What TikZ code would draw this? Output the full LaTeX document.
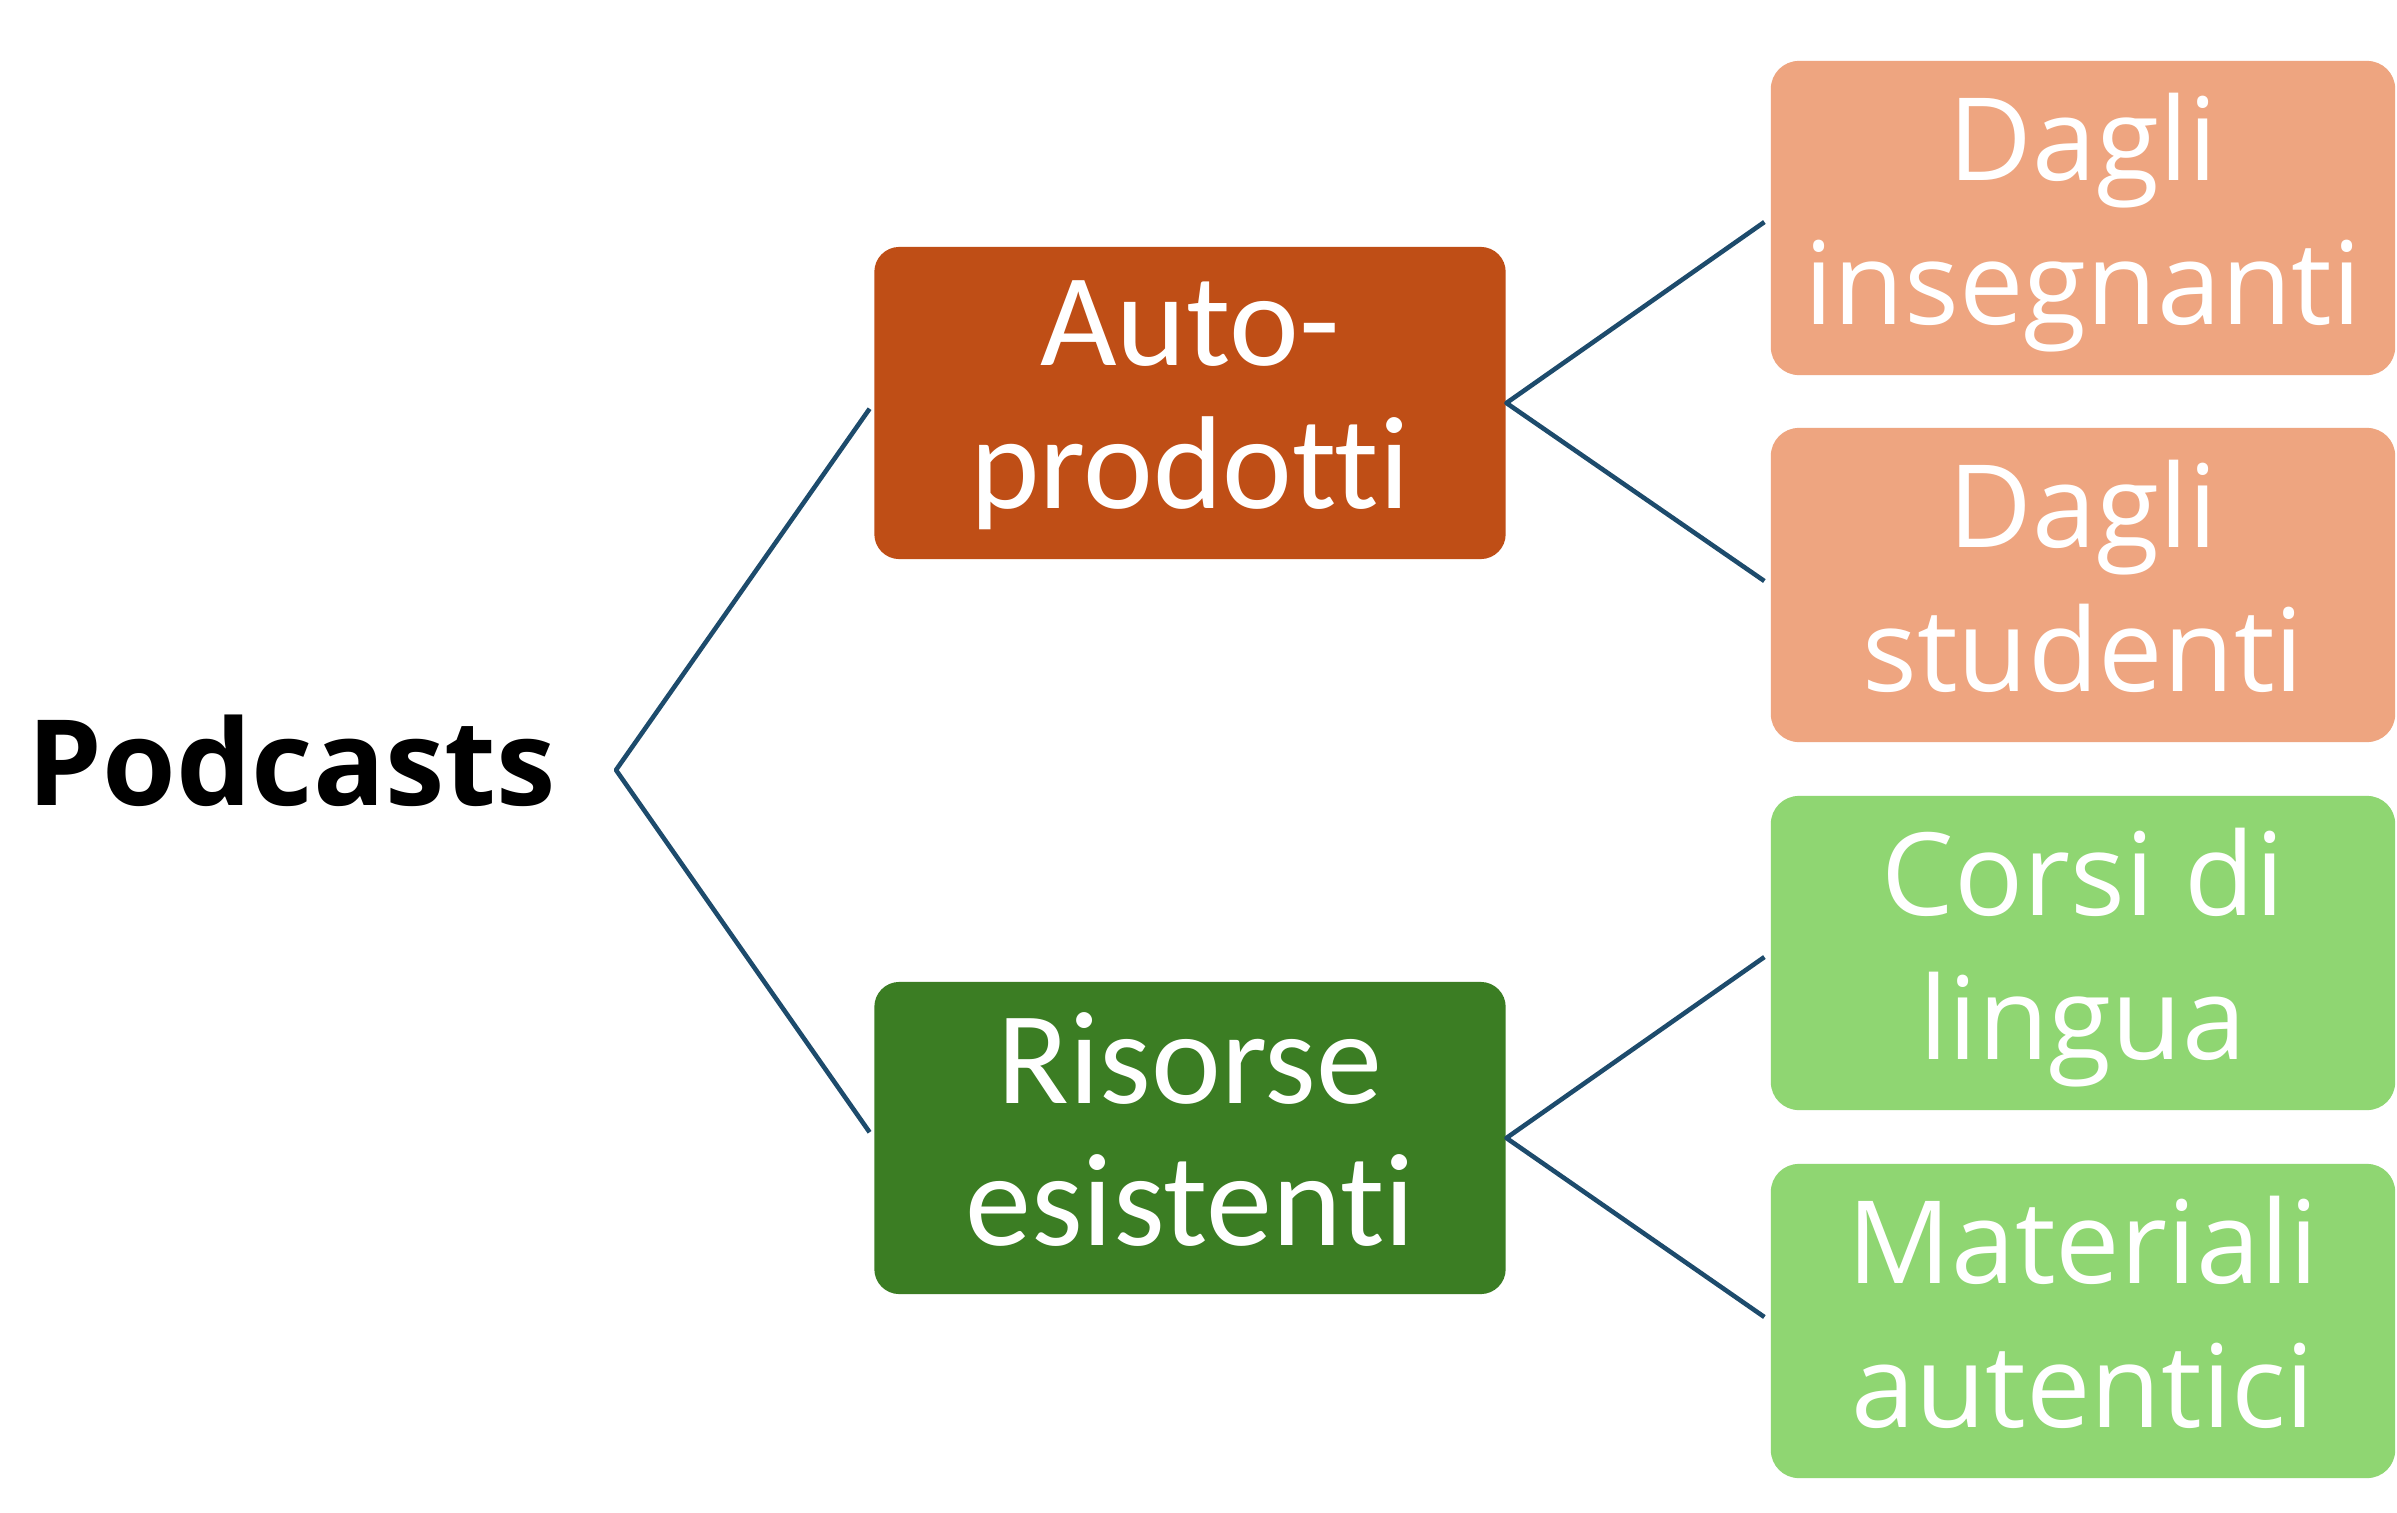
\documentclass[tikz,border=0pt]{standalone}
\usepackage{fontspec}
\newfontfamily\midfont{Carlito}[Ligatures={NoCommon,NoRare,NoContextual}]
\newfontfamily\leaffont{Open Sans}
\usepackage{tikz}

\definecolor{autocol}{HTML}{BF4E16}
\definecolor{risorsecol}{HTML}{3B7D23}
\definecolor{salmon}{HTML}{EEA580}
\definecolor{leafgreen}{HTML}{8FD672}
\definecolor{linkcol}{HTML}{1D4B6C}

\tikzset{
  midbox/.style={rectangle, rounded corners=0.25cm, minimum width=6.31cm,
    minimum height=3.12cm, inner sep=0pt, text=white, align=center,
    text height=2.1cm, text depth=0cm,
    font=\midfont\fontsize{37.6}{40.4}\selectfont},
  leafbox/.style={rectangle, rounded corners=0.28cm, minimum width=6.24cm,
    minimum height=3.14cm, inner sep=0pt, text=white, align=center,
    text height=2.12cm, text depth=0cm,
    font=\leaffont\fontsize{32.7}{40.7}\selectfont},
  link/.style={draw=linkcol, line width=1.3pt, line join=round,
    shorten <=0.07cm, shorten >=0.07cm}
}

\begin{document}
\begin{tikzpicture}[x=0.01cm, y=-0.01cm]
    % 背景
    \fill[white] (0,0) rectangle (2397,1512);
    \useasboundingbox (0,0) rectangle (2397,1512);

    % 根
    \node[anchor=base west, inner sep=0pt,
      font=\leaffont\bfseries\fontsize{33.9}{40}\selectfont] (pod) at (27,805) {Podcasts};
    \coordinate (fork) at (616,770);

    % 中段
    \node[midbox, fill=autocol] (auto) at (1190,403) {Auto-\\prodotti};
    \node[midbox, fill=risorsecol, text height=2.14cm] (risorse) at (1190,1138) {Risorse\\esistenti};

    % 右端
    \node[leafbox, fill=salmon] (ins) at (2083,218) {Dagli\\insegnanti};
    \node[leafbox, fill=salmon] (stu) at (2083,585) {Dagli\\studenti};
    \node[leafbox, fill=leafgreen] (corsi) at (2083,953) {Corsi di\\lingua};
    \node[leafbox, fill=leafgreen] (mat) at (2083,1321) {Materiali\\autentici};

    % 線
    \draw[link] (auto.west) -- (fork) -- (risorse.west);
    \draw[link] (ins.west) -- (auto.east) -- (stu.west);
    \draw[link] (corsi.west) -- (risorse.east) -- (mat.west);
\end{tikzpicture}
\end{document}
